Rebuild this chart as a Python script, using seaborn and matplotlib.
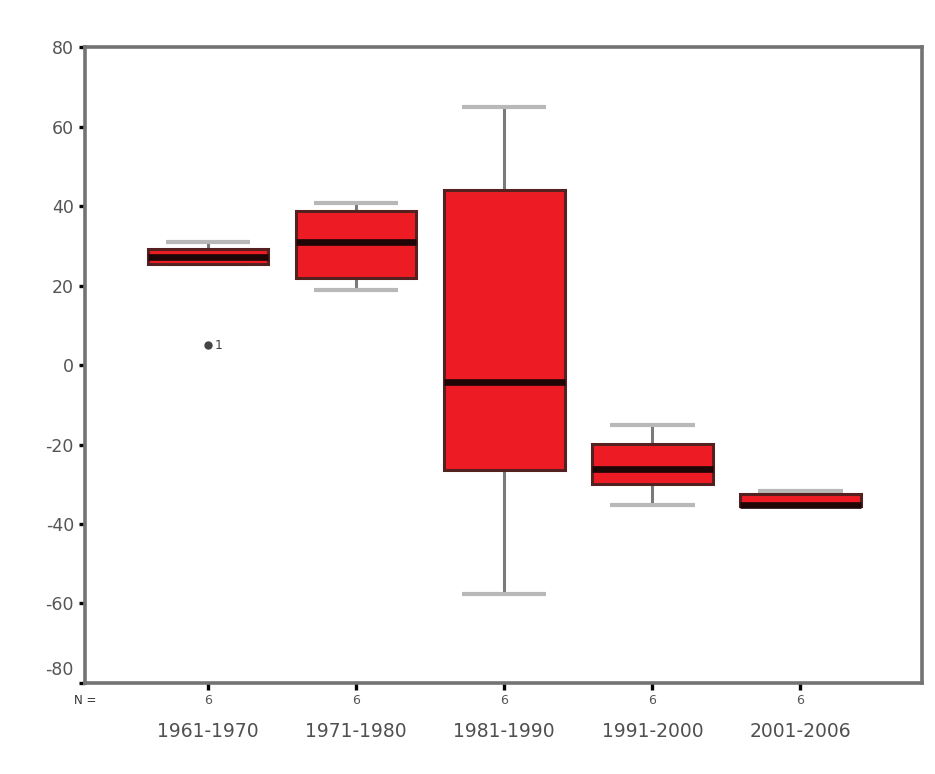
import matplotlib
matplotlib.use("Agg")
import matplotlib.pyplot as plt
import matplotlib.transforms as mtransforms
import pandas as pd
import seaborn as sns

# Observations per period (percent change)
periods = ["1961-1970", "1971-1980", "1981-1990", "1991-2000", "2001-2006"]
vals_1961_1970 = [5.0, 25.4, 25.4, 29.0, 29.3, 30.9]
vals_1971_1980 = [18.9, 21.0, 24.6, 37.2, 39.2, 40.7]
vals_1981_1990 = [-57.6, -30.0, -15.6, 7.0, 56.3, 64.9]
vals_1991_2000 = [-35.2, -31.0, -27.0, -25.4, -18.1, -15.1]
vals_2001_2006 = [-35.5, -35.5, -35.5, -35.1, -31.7, -31.7]
outlier_case = "1"

y_ticks = [-80, -60, -40, -20, 0, 20, 40, 60, 80]
y_tick_labels = ["-80", "-60", "-40", "-20", "0", "20", "40", "60", "80"]

groups = [vals_1961_1970, vals_1971_1980, vals_1981_1990, vals_1991_2000, vals_2001_2006]
df = pd.DataFrame(
    [(p, v) for p, g in zip(periods, groups) for v in g],
    columns=["period", "value"],
)

sns.set_theme(style="white")
plt.rcParams["font.family"] = ["DejaVu Sans"]

fig = plt.figure(figsize=(9.35, 7.74), dpi=100, facecolor="white")
ax = fig.add_axes([0.091, 0.1176, 0.895, 0.8215])

sns.boxplot(
    data=df, x="period", y="value", order=periods, ax=ax,
    color="#ed1c24", saturation=1, width=0.815, whis=1.5,
    linecolor="#552020", linewidth=2.2,
    capwidths=0.57,
    medianprops=dict(color="#1e0606", linewidth=4.8, zorder=3),
    whiskerprops=dict(color="#7a7a7a", linewidth=2.2, zorder=1.5),
    capprops=dict(color="#b8b8b8", linewidth=3, solid_capstyle="butt", zorder=1.5),
    flierprops=dict(marker="o", markersize=5, markerfacecolor="#444444",
                    markeredgecolor="#444444"),
)

# label the outlying case next to its marker
out_val = min(vals_1961_1970)
ax.annotate(outlier_case, xy=(0, out_val), xytext=(5, 0),
            textcoords="offset points", ha="left", va="center",
            fontsize=9, color="#444444")

ax.set_xlim(-0.83, 4.82)
ax.set_ylim(-80, 80)
ax.set_yticks(y_ticks)
ax.set_yticklabels(y_tick_labels)
ax.set_xlabel("")
ax.set_ylabel("")

for s in ax.spines.values():
    s.set_visible(True)
    s.set_color("#737373")
    s.set_linewidth(2.6)

ax.tick_params(axis="y", direction="out", length=4, width=2.4, color="black",
               labelsize=12.5, labelcolor="#555555", pad=4, left=True)
ax.tick_params(axis="x", direction="out", length=5, width=2.4, color="black",
               labelsize=13.5, labelcolor="#505050", pad=23, bottom=True)

# lift the lowest value label clear of the N row
lowest = ax.get_yticklabels()[0]
lowest.set_transform(lowest.get_transform()
                     + mtransforms.ScaledTranslation(0, 11 / 72, fig.dpi_scale_trans))

# case counts under each category
trans = mtransforms.blended_transform_factory(ax.transData, ax.transAxes)
for i, g in enumerate(groups):
    ax.text(i, -0.027, str(len(g)), transform=trans, ha="center", va="center",
            fontsize=9, color="#555555")
ax.text(0.0, -0.027, "N =", transform=ax.transAxes, ha="center", va="center",
        fontsize=8.5, color="#333333")

fig.savefig("out.png", dpi=100, facecolor="white")
